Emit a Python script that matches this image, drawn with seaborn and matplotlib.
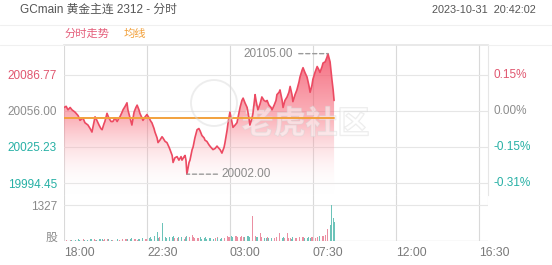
import numpy as np
import pandas as pd
import matplotlib
matplotlib.use("Agg")
import matplotlib.pyplot as plt
import seaborn as sns
from matplotlib.colors import LinearSegmentedColormap
from matplotlib.patches import Circle
from matplotlib.lines import Line2D
import matplotlib.patheffects as pe

# ---------------- data ----------------
# minutes after 18:00 (session start)
times = [0, 7, 13, 20, 26, 36, 46, 52, 62, 68, 78, 85, 91, 98, 101, 107, 114, 120, 124, 130,
         133, 140, 146, 153, 159, 166, 173, 179, 182, 189, 192, 199, 205, 208, 215, 221, 228, 234, 238, 244,
         247, 254, 257, 264, 270, 277, 283, 286, 293, 296, 303, 306, 312, 319, 322, 329, 335, 342, 345, 352,
         355, 361, 368, 374, 381, 384, 391, 394, 397, 400, 407, 410, 417, 420, 426, 433, 439, 443, 449, 456,
         459, 465, 472, 478, 485, 492, 498, 501, 508, 514, 521, 524, 531, 534, 540, 544, 550, 557, 563, 566,
         573, 579, 583, 589, 596, 602, 605, 612, 615, 622, 625, 631, 638, 644, 651, 658, 661, 667, 674, 677,
         684, 690, 693, 700, 703, 710, 713, 719, 726, 732, 736, 742, 745, 752, 758, 765, 768, 775, 778, 784,
         791, 797, 801, 807, 810, 817, 824, 830, 833, 840, 843, 850, 856, 859, 866, 872, 876, 879]
prices = [20059, 20060, 20057, 20059, 20057, 20055, 20052, 20048, 20050, 20046,
          20044, 20041, 20038, 20047, 20051, 20048, 20044, 20041, 20040, 20045,
          20047, 20054, 20050, 20047, 20047, 20050, 20047, 20050, 20051, 20055,
          20057, 20060, 20063, 20057, 20050, 20044, 20055, 20059, 20061, 20057,
          20054, 20050, 20048, 20051, 20053, 20050, 20047, 20046, 20041, 20038,
          20033, 20029, 20031, 20034, 20033, 20030, 20029, 20025, 20023, 20018,
          20012, 20016, 20017, 20014, 20017, 20014, 20017, 20018, 20014, 20002,
          20012, 20014, 20023, 20025, 20033, 20040, 20041, 20039, 20035, 20033,
          20031, 20030, 20027, 20025, 20023, 20024, 20026, 20025, 20023, 20020,
          20025, 20029, 20040, 20046, 20055, 20050, 20042, 20044, 20046, 20050,
          20059, 20065, 20067, 20063, 20059, 20050, 20044, 20050, 20054, 20070,
          20065, 20057, 20062, 20068, 20065, 20064, 20065, 20061, 20059, 20057,
          20061, 20065, 20070, 20072, 20074, 20065, 20059, 20065, 20068, 20072,
          20077, 20070, 20064, 20070, 20074, 20081, 20085, 20091, 20093, 20089,
          20085, 20078, 20072, 20078, 20083, 20089, 20094, 20091, 20089, 20094,
          20097, 20098, 20102, 20105, 20098, 20083, 20074, 20065]
volumes = [40, 35, 50, 45, 40, 55, 60, 50, 65, 45, 50, 70, 80, 60, 55, 50, 75, 60, 65, 55,
           80, 90, 60, 50, 55, 65, 70, 60, 50, 75, 80, 65, 90, 70, 60, 100, 80, 65, 55, 70,
           60, 110, 80, 70, 65,
           100, 130, 90, 170, 140, 330, 110, 160, 120, 665, 140, 110, 130, 100, 150,
           170, 120, 110, 140, 100, 130, 90, 150, 110, 180, 130, 100, 220, 140, 110, 120, 100, 150, 90, 110,
           130, 80, 100, 120, 90, 110, 130, 100, 80, 110,
           120, 100, 180, 140, 160, 200, 130, 170, 190, 150, 140, 180, 160, 130, 200, 170, 150, 220, 920, 200,
           140, 160, 300, 150, 120, 110, 130, 100, 120, 90, 110, 130, 150, 300, 140, 110, 130, 100, 280, 120,
           110, 90, 130, 100, 120, 140, 110, 150, 130, 100, 120, 140, 110, 130, 160, 120, 150, 170, 140, 200,
           180, 220, 330, 450, 600, 1327, 850, 700]
avg_times = [0, 879]
avg_prices = [20050.3, 20050.3]

base_price = 20056.00
price_ticks = [20086.77, 20056.00, 20025.23, 19994.45]
pct_labels = ["0.15%", "0.00%", "-0.15%", "-0.31%"]
vol_tick = 1327
x_tick_pos = [0, 270, 540, 810, 1080, 1350]
x_tick_labels = ["18:00", "22:30", "03:00", "07:30", "12:00", "16:30"]
session_len = 1380

title = "GCmain 黄金主连 2312 - 分时"
stamp = "2023-10-31  20:42:02"
legend_line = "分时走势"
legend_avg = "均线"

n = min(len(times), len(prices), len(volumes))
times, prices, volumes = times[:n], prices[:n], volumes[:n]
df = pd.DataFrame({"t": times, "price": prices, "vol": volumes})
df_avg = pd.DataFrame({"t": avg_times, "avg": avg_prices})

# ---------------- style ----------------
sns.set_theme(style="white")
plt.rcParams["font.family"] = ["Liberation Sans", "Noto Sans CJK SC", "DejaVu Sans"]

UP = "#e0566f"
FLAT = "#8c8c8c"
DOWN = "#27b0a5"
LINE = "#ec4a62"
AVG = "#f2a13c"
GRID_H = "#e6e6e6"
GRID_V = "#d9d9d9"

W, H = 552, 265
fig = plt.figure(figsize=(W / 100, H / 100), dpi=100)
fig.patch.set_facecolor("white")

def fx(px):
    return px / W

def fy(py):
    return 1 - py / H

ax = fig.add_axes([fx(64), fy(195), fx(488) - fx(64), fy(45) - fy(195)])
axv = fig.add_axes([fx(64), fy(241), fx(488) - fx(64), fy(195) - fy(241)])

ylo, yhi = 19984.2, 20112.4
ax.set_xlim(0, session_len)
ax.set_ylim(ylo, yhi)
axv.set_xlim(0, session_len)
axv.set_ylim(0, vol_tick * 46 / 36)

# gridlines
for xt in x_tick_pos:
    ax.axvline(xt, color=GRID_V, lw=0.8, zorder=0)
    axv.axvline(xt, color=GRID_V, lw=0.8, zorder=0)
for pt in price_ticks:
    ax.axhline(pt, color=GRID_H, lw=0.8, zorder=0)
axv.axhline(vol_tick, color=GRID_H, lw=0.8, zorder=0)
axv.axhline(0, color="#d5d5d5", lw=0.9, zorder=0)
axv.plot([session_len, session_len], [vol_tick, axv.get_ylim()[1]], color=GRID_H, lw=0.8)

# gradient area under price line
poly = ax.fill_between(df["t"], df["price"], ylo, color="none", lw=0)
cmap = LinearSegmentedColormap.from_list("g", [(1, 1, 1, 0.0), (0.97, 0.42, 0.48, 0.5), (0.95, 0.28, 0.38, 0.85)])
grad = np.linspace(1, 0, 256).reshape(-1, 1)
im = ax.imshow(grad, extent=[0, session_len, ylo, yhi], aspect="auto", cmap=cmap,
               origin="upper", zorder=1, interpolation="bilinear")
im.set_clip_path(poly.get_paths()[0], transform=ax.transData)

# watermark
ax.text(0.57, 0.465, "老虎社区", transform=ax.transAxes, fontsize=23, fontweight="bold",
        color=(1, 1, 1, 0.3), ha="center", va="center", zorder=2,
        path_effects=[pe.withStroke(linewidth=1.0, foreground=(0.84, 0.84, 0.84, 0.45))])
fig.patches.append(Circle((2.14, (H - 103) / 100), 0.23, transform=fig.dpi_scale_trans,
                          fill=False, ec=(0.85, 0.85, 0.85, 0.45), lw=1.4, zorder=3))

# lines
sns.lineplot(data=df, x="t", y="price", ax=ax, color=LINE, lw=1.2, estimator=None, zorder=4)
sns.lineplot(data=df_avg, x="t", y="avg", ax=ax, color=AVG, lw=1.4, estimator=None, zorder=5)

# high / low annotations
i_hi = int(np.argmax(prices))
i_lo = int(np.argmin(prices))
dash = dict(arrowstyle="-", color="#9a9a9a", lw=1.0, ls=(0, (3, 2)), shrinkA=0, shrinkB=0)
ax.annotate("", xy=(times[i_hi], prices[i_hi]), xytext=(-21, 0), textcoords="offset points", arrowprops=dash, zorder=6)
ax.annotate(f"{prices[i_hi]:.2f}", xy=(times[i_hi], prices[i_hi]), xytext=(-25, 0), textcoords="offset points",
            ha="right", va="center", fontsize=8.5, color="#8a8a8a", zorder=6)
ax.annotate("", xy=(times[i_lo], prices[i_lo]), xytext=(22, 0), textcoords="offset points", arrowprops=dash, zorder=6)
ax.annotate(f"{prices[i_lo]:.2f}", xy=(times[i_lo], prices[i_lo]), xytext=(25, 0), textcoords="offset points",
            ha="left", va="center", fontsize=8.5, color="#8a8a8a", zorder=6)

# volume bars
vcol = []
for i in range(n):
    prev = prices[i - 1] if i > 0 else base_price
    vcol.append("#eb8fa2" if prices[i] >= prev else "#6cc3b9")
axv.bar(df["t"], df["vol"], width=3.2, color=vcol, linewidth=0, zorder=3)

# axes cosmetics
for a in (ax, axv):
    for s in a.spines.values():
        s.set_visible(False)
ax.spines["top"].set_visible(True)
ax.spines["top"].set_color(GRID_H)
ax.spines["right"].set_visible(True)
ax.spines["right"].set_color(GRID_H)
ax.spines["right"].set_linewidth(0.8)

ax.set_xlabel("")
ax.set_ylabel("")
axv.set_xlabel("")
axv.set_ylabel("")
ax.set_xticks([])
ax.set_yticks(price_ticks)
ax.set_yticklabels([f"{p:.2f}" for p in price_ticks])
ax.tick_params(axis="y", length=0, pad=5, labelsize=8.5)
for lab, p in zip(ax.get_yticklabels(), price_ticks):
    lab.set_color(UP if p > base_price + 0.001 else (DOWN if p < base_price - 0.001 else FLAT))
for p, s in zip(price_ticks, pct_labels):
    c = UP if p > base_price + 0.001 else (DOWN if p < base_price - 0.001 else FLAT)
    ax.text(1.014, p, s, transform=ax.get_yaxis_transform(), ha="left", va="center", fontsize=8.5, color=c)

axv.set_yticks([vol_tick, vol_tick * 0.13])
axv.set_yticklabels([str(vol_tick), "股"])
axv.tick_params(axis="y", length=0, pad=5, labelsize=8.5, labelcolor="#8a8a8a")
axv.set_xticks(x_tick_pos)
axv.set_xticklabels(x_tick_labels, ha="left")
axv.tick_params(axis="x", length=0, pad=4, labelsize=8.8, labelcolor="#7a7a7a")

# header
fig.text(fx(20), fy(10), title, ha="left", va="center", fontsize=8.5, color="#555555")
fig.text(fx(536), fy(10), stamp, ha="right", va="center", fontsize=7.8, color="#555555")
fig.add_artist(Line2D([0, 1], [fy(25), fy(25)], transform=fig.transFigure, color="#f0f0f0", lw=0.8))
fig.add_artist(Line2D([0, fx(64)], [fy(45), fy(45)], transform=fig.transFigure, color="#f0f0f0", lw=0.8))
fig.add_artist(Line2D([fx(488), 1], [fy(45), fy(45)], transform=fig.transFigure, color="#f0f0f0", lw=0.8))
fig.text(fx(65), fy(34), legend_line, ha="left", va="center", fontsize=8.1, color="#e5607c")
fig.text(fx(124), fy(34), legend_avg, ha="left", va="center", fontsize=8.1, color=AVG)

fig.savefig("out.png", dpi=100, facecolor="white")
